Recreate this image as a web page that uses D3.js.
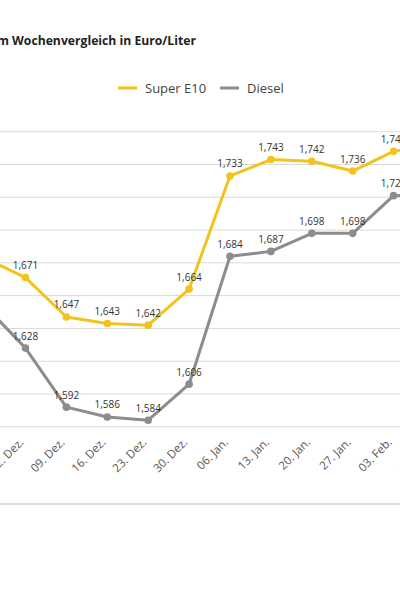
<!DOCTYPE html>
<html>
<head>
<meta charset="utf-8">
<script src="https://cdn.jsdelivr.net/npm/d3@7"></script>
<style>
  body { margin: 0; background: #fff; }
  svg { display: block; font-family: "Open Sans", sans-serif; }
</style>
</head>
<body>
<div class="chart"></div>
<script>
var width = 400,
    height = 600;

// weekly dates (first and last partly outside the visible crop)
var dates = ["25. Nov.", "02. Dez.", "09. Dez.", "16. Dez.", "23. Dez.", "30. Dez.",
             "06. Jan.", "13. Jan.", "20. Jan.", "27. Jan.", "03. Feb.", "10. Feb."];
var superE10 = [1.683, 1.671, 1.647, 1.643, 1.642, 1.664, 1.733, 1.743, 1.742, 1.736, 1.748, 1.752];
var diesel   = [1.654, 1.628, 1.592, 1.586, 1.584, 1.606, 1.684, 1.687, 1.698, 1.698, 1.721, 1.722];
var yTicks = [1.58, 1.60, 1.62, 1.64, 1.66, 1.68, 1.70, 1.72, 1.74, 1.76];
var seriesNames = ["Super E10", "Diesel"];
var colors = ["#f2c31c", "#8c8c8c"];

var x = d3.scalePoint()
    .domain(dates)
    .range([-15.4, 434.5]);

var y = d3.scaleLinear()
    .domain([1.58, 1.76])
    .range([426.8, 131.7]);

var fmt = function(v) { return d3.format(".3f")(v).replace(".", ","); };

var svg = d3.select(".chart").append("svg")
    .attr("width", width)
    .attr("height", height);

// title (cut on the left like the original)
svg.append("text")
    .attr("x", 196)
    .attr("y", 45)
    .attr("text-anchor", "end")
    .attr("font-weight", "bold")
    .attr("font-size", 12.2)
    .attr("fill", "#222")
    .text("Spritpreise im Wochenvergleich in Euro/Liter");

// legend
var legend = svg.append("g");
var legendX = [118, 220];
seriesNames.forEach(function(name, i) {
  legend.append("line")
      .attr("x1", legendX[i]).attr("x2", legendX[i] + 19)
      .attr("y1", 88).attr("y2", 88)
      .attr("stroke", colors[i])
      .attr("stroke-width", 3);
  legend.append("text")
      .attr("x", legendX[i] + 27)
      .attr("y", 92.5)
      .attr("font-size", 13)
      .attr("fill", "#444")
      .text(name);
});

// gridlines
svg.append("g").selectAll("line")
    .data(yTicks)
    .enter().append("line")
    .attr("x1", 0).attr("x2", width)
    .attr("y1", function(d) { return y(d); })
    .attr("y2", function(d) { return y(d); })
    .attr("stroke", "#d9d9d9")
    .attr("stroke-width", 1);

// x labels
svg.append("g").selectAll("text")
    .data(dates)
    .enter().append("text")
    .attr("transform", function(d) { return "translate(" + (x(d) - 1) + ",443) rotate(-45)"; })
    .attr("text-anchor", "end")
    .attr("font-size", 11.5)
    .attr("fill", "#555")
    .text(function(d) { return d; });

// bottom border
svg.append("line")
    .attr("x1", 0).attr("x2", width)
    .attr("y1", 504).attr("y2", 504)
    .attr("stroke", "#cfcfcf")
    .attr("stroke-width", 1.5);

var line = d3.line()
    .x(function(d, i) { return x(dates[i]); })
    .y(function(d) { return y(d); });

[superE10, diesel].forEach(function(values, s) {
  var g = svg.append("g");
  g.append("path")
      .datum(values)
      .attr("d", line)
      .attr("fill", "none")
      .attr("stroke", colors[s])
      .attr("stroke-width", 3)
      .attr("stroke-linejoin", "round");
  g.selectAll("circle")
      .data(values)
      .enter().append("circle")
      .attr("cx", function(d, i) { return x(dates[i]); })
      .attr("cy", function(d) { return y(d); })
      .attr("r", 3.8)
      .attr("fill", colors[s]);
  g.selectAll("text")
      .data(values)
      .enter().append("text")
      .attr("x", function(d, i) { return x(dates[i]); })
      .attr("y", function(d) { return y(d) - 8.5; })
      .attr("text-anchor", "middle")
      .attr("font-size", 10)
      .attr("fill", "#333")
      .text(fmt);
});
</script>
</body>
</html>
